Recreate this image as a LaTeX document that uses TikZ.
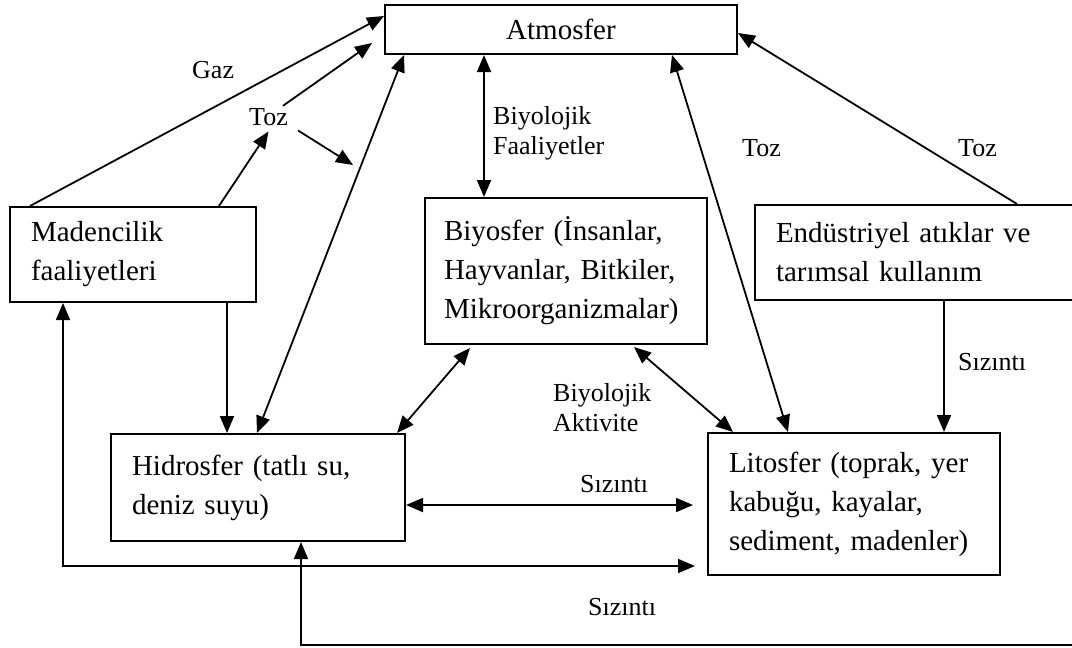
\documentclass[tikz,border=0pt]{standalone}
\usepackage{fontspec}
\setmainfont{Liberation Serif}
\usetikzlibrary{arrows.meta}
\newcommand\boxfont{\fontsize{29}{39}\selectfont}
\newcommand\lblfont{\fontsize{26}{30}\selectfont}
\begin{document}
\begin{tikzpicture}[x=1pt,y=-1pt,
  box/.style={draw, line width=2pt, anchor=north west, inner xsep=21pt, inner ysep=0pt, align=left, font=\boxfont},
  lbl/.style={inner sep=0pt, font=\lblfont, align=left},
  conn/.style={line width=1.8pt, -{Triangle[length=17pt,width=14pt]}},
  dconn/.style={line width=1.8pt, {Triangle[length=17pt,width=14pt]}-{Triangle[length=17pt,width=14pt]}}]
\useasboundingbox (0,0) rectangle (1072,648);
\clip (0,0) rectangle (1072,648);
\fill[white] (0,0) rectangle (1072,648);
% boxes
\node[box, align=center, minimum width=352pt, minimum height=49pt, text width=310pt] (atm) at (384,4) {Atmosfer};
\node[box, minimum width=246pt, minimum height=95pt, text width=204pt] (mad) at (9,206) {Madencilik\\faaliyetleri};
\node[box, minimum width=282pt, minimum height=146pt, text width=244pt, inner xsep=19pt] (bio) at (424,197) {Biyosfer (İnsanlar,\\Hayvanlar, Bitkiler,\\Mikroorganizmalar)};
\node[box, minimum width=330pt, minimum height=95pt, text width=288pt] (end) at (754,204) {Endüstriyel atıklar ve\\tarımsal kullanım};
\node[box, minimum width=294pt, minimum height=107pt, text width=252pt] (hid) at (110,433) {Hidrosfer (tatlı su,\\deniz suyu)};
\node[box, minimum width=292pt, minimum height=142pt, text width=250pt] (lit) at (707,432) {Litosfer (toprak, yer\\kabuğu, kayalar,\\sediment, madenler)};
% labels
\node[lbl, anchor=base west] (gaz) at (192,78) {Gaz};
\node[lbl, anchor=base west] (tozl) at (249,125) {Toz};
\node[lbl, anchor=west] (bf) at (493,133) {Biyolojik\\Faaliyetler};
\node[lbl, anchor=base west] (tozm) at (742,156) {Toz};
\node[lbl, anchor=base west] (tozr) at (958,156) {Toz};
\node[lbl, anchor=base west] (sizr) at (958,370) {Sızıntı};
\node[lbl, anchor=west] (ba) at (553,408) {Biyolojik\\Aktivite};
\node[lbl, anchor=base west] (sizm) at (580,492) {Sızıntı};
\node[lbl, anchor=base west] (sizb) at (588,615) {Sızıntı};
% free ends and helper points
\coordinate (t1) at (372,43);
\coordinate (t2) at (353,165);
\coordinate (s1) at (693,505);
\coordinate (s2) at (695,566);
\coordinate (s3) at (1090,645);
\coordinate (b1) at ([xshift=60pt]bio.north west);
\coordinate (m1) at ([xshift=218pt]mad.south west);
\coordinate (e1) at ([xshift=190pt]end.south west);
% connectors
\draw[conn] ([xshift=21pt]mad.north west) -- ([yshift=-12pt]atm.north west);
\draw[conn] ([xshift=210pt]mad.north west) -- ([yshift=-6pt]tozl.south);
\draw[conn] ([xshift=-5pt,yshift=2pt]tozl.north east) -- (t1);
\draw[conn] ([xshift=10pt,yshift=-5pt]tozl.south east) -- (t2);
\draw[dconn] ([xshift=20pt]atm.south west) -- ([xshift=147pt]hid.north west);
\draw[conn] (m1) -- (m1 |- hid.north);
\draw[dconn] (atm.south -| b1) -- (b1);
\draw[dconn] ([xshift=288pt]atm.south west) -- ([xshift=81pt]lit.north west);
\draw[conn] ([xshift=263pt]end.north west) -- ([yshift=-29pt]atm.north east);
\draw[conn] (e1) -- (e1 |- lit.north);
\draw[dconn] ([xshift=46pt,yshift=-3pt]bio.south west) -- ([xshift=-9pt]hid.north east);
\draw[dconn] ([xshift=210pt,yshift=-2pt]bio.south west) -- ([xshift=26pt]lit.north west);
\draw[dconn] (hid.east |- s1) -- (s1);
\draw[dconn] ([xshift=54pt]mad.south west) |- (s2);
\draw[conn] (s3) -| ([xshift=191pt]hid.south west);
\end{tikzpicture}
\end{document}
